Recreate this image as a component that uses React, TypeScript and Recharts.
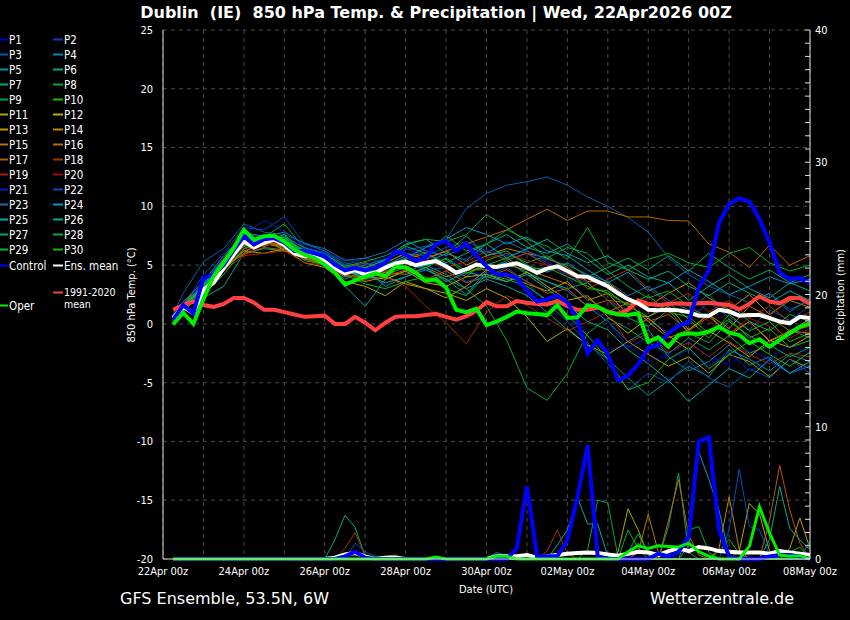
import React from "react";
import { CartesianGrid, Line, LineChart, XAxis, YAxis } from "recharts";

const FONT = "'DejaVu Sans Condensed', 'DejaVu Sans', sans-serif";
const WIDE_FONT = "'DejaVu Sans', sans-serif";

// x axis: steps of 6 h from 22Apr 00z (step 0) to 08May 00z (step 64)
const dayTicks = [0, 4, 8, 12, 16, 20, 24, 28, 32, 36, 40, 44, 48, 52, 56, 60, 64];
const dateLabels = ["22Apr 00z", "24Apr 00z", "26Apr 00z", "28Apr 00z", "30Apr 00z", "02May 00z", "04May 00z", "06May 00z", "08May 00z"];
const tempTicks = [-20, -15, -10, -5, 0, 5, 10, 15, 20, 25];
const rainTicks = Array.from({ length: 41 }, (_, i) => i);

// 6-hourly, steps 1..64
const controlT = [0.35, 1.6, 0.9, 3.9, 4.2, 5.0, 6.3, 7.45, 6.75, 7.2, 7.3, 6.9, 6.2, 6.2, 6.0, 5.75, 5.05, 4.55, 4.75, 4.55, 4.8, 5.2, 6.2, 5.9, 5.35, 5.65, 6.8, 7.05, 6.2, 6.8, 5.8, 4.9, 4.2, 4.2, 3.9, 2.8, 1.9, 2.1, 2.4, 1.85, 0.3, -2.5, -1.4, -2.6, -4.8, -4.4, -3.45, -2.05, -1.8, -0.8, -0.15, 0.1, 3.1, 4.6, 8.6, 10.2, 10.7, 10.4, 8.9, 6.9, 4.35, 3.8, 3.9, 3.5];
const meanT = [0.5, 1.45, 0.9, 2.9, 3.5, 4.75, 5.9, 7.0, 6.5, 6.9, 7.2, 6.7, 6.0, 5.75, 5.8, 5.3, 4.75, 4.3, 4.6, 4.2, 4.35, 4.8, 5.15, 5.3, 5.0, 5.2, 5.35, 4.9, 4.35, 4.65, 5.05, 4.9, 4.85, 5.0, 5.15, 4.8, 4.35, 4.7, 4.9, 4.5, 4.05, 4.0, 3.6, 3.2, 2.6, 2.1, 1.75, 1.2, 1.15, 1.2, 1.15, 1.0, 0.7, 0.7, 1.2, 1.05, 0.7, 0.75, 0.75, 0.5, 0.2, 0.05, 0.6, 0.5];
const operT = [-0.05, 0.95, 0.0, 2.1, 4.05, 5.2, 6.45, 8.0, 7.15, 7.45, 7.5, 7.0, 6.3, 5.9, 5.6, 5.05, 4.35, 3.35, 3.7, 4.0, 4.3, 4.05, 4.85, 4.8, 4.35, 3.65, 3.8, 3.1, 1.2, 1.0, 1.3, -0.1, 0.2, 0.6, 1.05, 0.9, 0.85, 0.75, 1.6, 0.5, 0.55, 1.6, 1.45, 1.0, 0.8, 0.75, 0.9, -1.5, -1.15, -1.95, -0.95, -0.8, -0.85, -0.65, -0.25, -0.75, -0.95, -1.65, -1.3, -1.95, -1.35, -0.8, -0.25, 0.05];
const climT = [1.2, 1.6, 1.9, 1.6, 1.45, 1.7, 2.2, 2.2, 1.8, 1.2, 1.2, 1.0, 0.8, 0.6, 0.65, 0.7, 0.0, 0.0, 0.6, 0.1, -0.55, 0.1, 0.6, 0.65, 0.65, 0.75, 0.85, 0.6, 0.35, 0.65, 1.1, 1.85, 1.5, 1.5, 1.95, 1.8, 1.7, 1.65, 1.95, 1.5, 1.2, 1.2, 1.4, 1.05, 0.85, 1.2, 2.0, 1.7, 1.6, 1.7, 1.75, 1.7, 1.75, 1.8, 1.7, 1.6, 1.25, 1.7, 2.35, 1.9, 1.75, 2.2, 2.2, 1.7];

// perturbations: step 1, then every 12 h (steps 2, 4, ..., 64)
const p1 = [0.4, 1.8, 3.5, 5.6, 7.4, 7.6, 7.2, 6.3, 5.8, 4.8, 4.2, 4.9, 5.8, 6.3, 5.5, 4.2, 4.4, 3.8, 3.0, 2.0, 0.6, -1.0, -2.2, -1.8, -3.2, -2.6, -1.5, -2.8, -3.5, -2.2, -3.0, -1.8, -2.5];
const p2 = [0.6, 1.4, 4.2, 6.0, 8.2, 8.0, 9.1, 6.8, 6.2, 5.0, 5.6, 5.2, 6.0, 5.8, 6.5, 7.0, 6.2, 5.5, 6.0, 5.2, 4.0, 3.5, 2.0, 1.2, 0.5, -0.8, 0.4, 1.8, 0.6, -0.5, 1.2, 0.3, 1.5];
const p3 = [0.8, 2.6, 5.3, 6.4, 8.5, 7.8, 7.6, 6.9, 6.2, 5.2, 4.8, 5.4, 6.3, 6.6, 7.2, 9.8, 11.1, 11.8, 12.1, 12.5, 11.8, 10.8, 10.0, 9.05, 7.8, 5.65, 4.2, 3.2, 2.5, 1.8, 2.6, 1.2, 2.0];
const p4 = [0.3, 1.2, 2.5, 4.8, 6.6, 7.2, 6.5, 5.6, 5.0, 3.8, 4.6, 3.2, 4.0, 4.6, 3.8, 2.5, 4.5, 5.4, 4.2, 3.6, 2.8, 1.5, 0.2, -1.5, -0.5, -2.8, -4.0, -3.2, -1.8, -3.5, -2.8, -4.2, -3.6];
const p5 = [0.7, 1.6, 3.2, 5.0, 6.8, 7.0, 6.8, 5.5, 5.2, 3.2, 1.5, 3.8, 4.5, 5.0, 4.2, 3.0, 3.8, 3.2, 2.4, 1.0, -0.5, -1.8, -3.0, -4.6, -6.1, -4.8, -3.6, -4.5, -2.2, -3.0, -4.0, -2.6, -3.2];
const p6 = [0.2, 1.0, 2.8, 5.4, 7.2, 6.6, 7.4, 6.5, 5.9, 4.6, 5.0, 5.5, 6.8, 7.2, 6.0, 5.4, 6.8, 7.6, 6.5, 6.0, 6.8, 5.5, 4.2, 5.0, 4.0, 3.5, 2.0, 3.2, 4.2, 3.0, 2.2, 3.5, 2.8];
const p7 = [0.5, 1.4, 2.2, 3.2, 6.0, 6.4, 6.2, 5.8, 5.5, 4.8, 3.8, 4.4, 5.2, 4.8, 5.6, 4.5, 4.8, 5.2, 4.4, 3.6, 3.0, 3.5, 2.0, 0.5, -0.2, 1.2, -0.8, -1.6, 0.2, -1.0, -2.0, -0.5, -1.2];
const p8 = [0.3, 1.2, 2.6, 4.6, 6.4, 6.8, 6.6, 5.4, 5.0, 4.0, 4.2, 4.8, 5.4, 4.6, 3.8, 3.0, 1.5, -1.4, -5.45, -6.5, -4.2, -0.8, 0.5, -0.4, -1.6, -2.5, -1.2, -2.2, -1.0, -2.5, -1.8, -2.8, -2.0];
const p9 = [0.6, 1.7, 3.4, 5.6, 7.8, 7.4, 8.5, 6.4, 6.0, 4.8, 5.2, 4.6, 5.5, 6.0, 7.5, 6.2, 6.8, 8.0, 7.2, 6.6, 5.5, 8.2, 5.2, 4.6, 5.5, 6.0, 5.2, 4.8, 6.0, 6.5, 5.2, 4.5, 5.0];
const p10 = [0.4, 1.3, 3.0, 5.0, 7.0, 7.2, 6.8, 6.0, 5.4, 4.2, 4.8, 4.2, 4.8, 5.5, 4.8, 4.0, 5.4, 6.0, 5.2, 5.8, 4.6, 3.0, 2.8, 1.5, 0.6, 1.8, 0.4, -1.2, 0.8, -0.6, 0.2, -1.5, -0.8];
const p11 = [0.6, 1.5, 2.8, 4.6, 6.2, 6.0, 6.4, 5.2, 4.8, 3.6, 3.2, 2.4, 3.6, 3.0, 2.6, 2.0, 3.0, 2.2, 0.6, -1.5, -0.4, -1.8, -2.6, -1.5, -2.6, -3.6, -2.8, -4.2, -2.6, -3.2, -4.5, -3.0, -3.8];
const p12 = [0.5, 1.6, 3.1, 5.3, 6.9, 7.1, 6.6, 5.9, 5.3, 4.4, 4.1, 3.8, 4.5, 3.5, 3.2, 4.0, 4.2, 3.6, 4.4, 3.2, 2.0, 2.4, 0.6, -0.8, 0.5, -1.0, -2.2, -0.6, -1.6, -2.8, -1.4, -2.0, -1.0];
const p13 = [0.4, 1.5, 2.9, 4.8, 6.0, 7.3, 6.2, 5.8, 5.5, 4.3, 3.6, 4.0, 3.4, 3.0, 2.2, 3.2, 4.6, 4.0, 3.4, 2.8, 3.6, 2.0, 2.6, 0.8, 0.6, 1.5, -0.5, 0.8, -1.0, 0.2, -1.5, -0.6, -0.8];
const p14 = [0.7, 1.9, 3.3, 5.5, 7.1, 6.6, 7.2, 6.1, 5.7, 4.4, 4.7, 5.2, 6.0, 5.5, 6.2, 5.0, 5.8, 6.4, 6.0, 5.6, 4.8, 3.6, 3.5, 2.2, 1.5, 2.6, 3.5, 2.2, 1.2, 2.5, 0.8, 2.0, 1.4];
const p15 = [0.5, 1.4, 3.0, 5.1, 6.6, 6.9, 6.4, 5.6, 5.1, 4.1, 4.0, 4.4, 4.2, 4.8, 4.0, 4.6, 4.6, 5.0, 4.6, 4.0, 3.4, 2.2, 1.0, 1.8, 0.2, -1.2, -0.5, 0.8, -0.4, 1.5, 0.6, -0.6, 0.4];
const p16 = [0.6, 1.7, 3.1, 5.0, 6.2, 6.8, 6.6, 5.7, 5.2, 4.6, 4.2, 4.5, 5.0, 5.6, 6.2, 6.8, 7.4, 8.0, 8.9, 9.75, 8.8, 9.6, 9.6, 9.1, 9.1, 8.8, 8.75, 6.8, 6.1, 4.8, 6.7, 5.0, 5.8];
const p17 = [0.5, 1.5, 2.7, 4.9, 5.9, 6.5, 6.3, 5.5, 5.0, 4.0, 4.4, 4.0, 4.6, 3.8, 4.5, 3.5, 4.0, 4.6, 3.6, 2.6, 3.0, 1.5, 2.0, 1.8, 0.2, 0.8, -0.6, 0.6, -0.8, 0.2, -1.4, -0.6, -0.2];
const p18 = [0.4, 1.3, 2.9, 5.1, 6.0, 6.7, 6.9, 5.9, 5.6, 4.7, 5.2, 4.8, 5.6, 6.1, 4.8, 5.3, 6.2, 5.4, 6.0, 5.0, 4.6, 3.0, 3.8, 4.6, 3.0, 1.8, 2.6, 1.0, 2.0, 0.5, 1.5, 0.2, 1.0];
const p19 = [0.5, 1.6, 2.8, 4.5, 5.8, 6.0, 6.2, 5.2, 5.0, 4.2, 3.8, 4.0, 3.2, 1.5, 0.1, -1.7, 1.0, 2.4, 1.6, 0.5, -0.6, 0.2, 1.0, -1.6, -0.8, -2.4, -1.6, -2.8, -1.5, -2.6, -3.4, -2.5, -2.8];
const p20 = [0.6, 1.7, 3.2, 5.6, 6.4, 6.9, 7.0, 6.0, 5.5, 4.6, 4.0, 4.5, 5.0, 5.5, 4.6, 4.2, 5.6, 6.0, 5.4, 5.0, 4.2, 3.6, 2.0, 1.0, 2.2, 0.8, 1.6, 0.2, -0.8, 0.5, -0.2, -1.2, -0.4];
const p21 = [0.5, 1.5, 3.6, 5.8, 7.6, 8.8, 7.9, 6.6, 6.0, 5.5, 5.0, 5.6, 6.4, 5.8, 5.0, 5.6, 6.3, 5.8, 6.2, 5.4, 4.0, 2.0, 0.2, -2.0, -1.2, -3.0, -2.2, -3.6, -2.4, -4.0, -3.2, -4.2, -3.5];
const p22 = [0.4, 1.1, 2.9, 5.2, 7.2, 7.0, 7.5, 6.4, 6.1, 5.0, 4.6, 5.0, 5.2, 4.6, 4.8, 3.6, 4.0, 4.8, 3.5, 1.8, 0.2, -1.6, -3.4, -5.6, -4.2, -5.0, -3.2, -4.6, -5.4, -3.8, -4.6, -3.0, -4.2];
const p23 = [0.5, 1.9, 3.6, 5.8, 7.6, 7.5, 7.8, 6.8, 6.4, 5.4, 5.6, 6.1, 7.1, 6.2, 5.8, 6.6, 6.0, 7.0, 6.2, 5.5, 5.0, 4.2, 3.6, 2.4, 3.2, 2.0, 1.2, 2.5, 0.8, 1.8, 2.6, 1.0, 2.2];
const p24 = [0.7, 1.6, 3.3, 5.5, 7.3, 7.0, 7.1, 6.2, 5.8, 4.5, 4.0, 4.9, 5.6, 6.5, 7.2, 8.2, 7.6, 6.8, 7.4, 6.2, 5.8, 4.6, 3.5, 4.4, 2.8, 3.5, 4.6, 3.6, 2.5, 3.2, 4.0, 3.4, 3.8];
const p25 = [0.5, 1.5, 3.1, 5.3, 7.0, 7.1, 7.0, 6.1, 5.6, 4.4, 4.2, 3.5, 4.0, 4.8, 3.6, 4.4, 4.0, 3.6, 4.2, 3.0, 1.6, 0.2, -0.5, -2.2, -3.4, -4.8, -6.6, -5.2, -3.8, -4.6, -3.0, -4.2, -3.2];
const p26 = [0.4, 1.6, 3.0, 5.1, 7.0, 6.9, 7.3, 6.2, 5.7, 4.6, 4.8, 5.4, 6.6, 6.0, 5.2, 6.0, 6.8, 5.6, 6.4, 7.2, 6.0, 5.2, 5.8, 4.6, 3.8, 4.5, 3.2, 2.4, 3.5, 2.6, 1.8, 2.8, 2.0];
const p27 = [0.6, 1.4, 2.9, 5.0, 6.8, 7.2, 6.9, 5.8, 5.4, 4.3, 4.6, 5.0, 5.8, 5.2, 6.0, 7.5, 5.8, 6.2, 5.0, 4.4, 5.2, 4.0, 4.8, 5.6, 4.6, 5.8, 4.5, 6.0, 4.8, 3.8, 4.6, 3.5, 4.2];
const p28 = [0.5, 1.7, 3.2, 5.4, 7.2, 7.4, 7.1, 6.3, 5.9, 4.9, 5.3, 5.8, 6.7, 7.2, 7.0, 7.6, 9.3, 8.2, 7.0, 5.6, 6.5, 6.0, 4.5, 3.2, 2.2, 2.8, 1.5, 0.5, 1.8, 0.2, -0.6, 0.8, 0.2];
const p29 = [0.3, 1.2, 2.5, 4.2, 6.4, 7.0, 7.4, 6.0, 5.4, 4.2, 3.4, 3.0, 3.6, 4.0, 3.0, 2.4, 4.2, 3.8, 3.2, 2.0, 0.8, -1.0, -3.0, -5.6, -5.0, -3.0, -2.0, -3.8, -2.6, -1.5, -2.6, -3.6, -2.4];
const p30 = [0.5, 1.5, 3.0, 5.2, 7.0, 7.0, 7.6, 6.0, 5.6, 4.4, 4.4, 4.7, 5.3, 5.0, 5.5, 4.3, 5.0, 5.6, 4.6, 4.8, 4.0, 3.2, 2.6, 1.6, 2.4, 1.0, 0.6, -0.8, 0.4, -1.2, -0.4, -2.0, -1.4];

// precipitation (mm per 6 h), only non-zero steps as [step, mm]
type Rain = [number, number][];
const r1: Rain = [];
const r2: Rain = [[44, 0.3]];
const r3: Rain = [];
const r4: Rain = [[33, 0.5], [34, 0.2]];
const r5: Rain = [];
const r6: Rain = [[17, 1.45], [18, 3.3], [19, 2.4], [20, 0.2]];
const r7: Rain = [[50, 2.45], [51, 6.5], [52, 0.5]];
const r8: Rain = [[42, 0.7], [43, 4.45], [44, 4.25], [45, 0.2]];
const r9: Rain = [[46, 0.4], [47, 1.2], [48, 0.6]];
const r10: Rain = [[55, 0.6], [56, 1.5], [57, 0.4]];
const r11: Rain = [[45, 0.5], [46, 3.8], [47, 2.2], [48, 0.3]];
const r12: Rain = [[57, 0.6], [58, 4.2], [59, 3.4], [60, 0.6]];
const r13: Rain = [[62, 0.8], [63, 3.1], [64, 0.8]];
const r14: Rain = [[55, 0.8], [56, 4.7], [57, 0.7]];
const r15: Rain = [[22, 0.2], [23, 0.3], [47, 0.5], [48, 3.4], [49, 0.5]];
const r16: Rain = [[50, 2.9], [51, 6.0], [52, 1.8], [53, 0.3]];
const r17: Rain = [[60, 2.9], [61, 7.1], [62, 3.7], [63, 1.2]];
const r18: Rain = [[18, 0.8], [19, 2.0], [20, 0.2], [38, 0.6], [39, 2.2], [40, 0.4]];
const r19: Rain = [[33, 0.3]];
const r20: Rain = [];
const r21: Rain = [[49, 0.3], [50, 0.5]];
const r22: Rain = [[19, 1.2], [20, 0.55], [21, 0.2], [56, 2.2], [57, 6.8], [58, 2.45], [59, 2.2], [60, 0.3]];
const r23: Rain = [[64, 1.4]];
const r24: Rain = [[52, 1.0], [53, 8.1], [54, 6.0], [55, 3.7], [56, 0.3]];
const r25: Rain = [[39, 1.05], [40, 2.2], [41, 4.65], [42, 2.65], [43, 2.65], [44, 0.2]];
const r26: Rain = [[60, 1.5], [61, 5.5], [62, 2.3], [63, 1.45], [64, 0.7]];
const r27: Rain = [[46, 0.5], [47, 1.9], [48, 0.4]];
const r28: Rain = [[52, 2.2], [53, 2.45], [54, 0.5]];
const r29: Rain = [[46, 2.2], [47, 0.8]];
const r30: Rain = [[62, 0.5], [63, 0.9]];
const controlR: Rain = [[18, 0.2], [19, 0.55], [20, 0.1], [35, 0.8], [36, 5.5], [37, 0.2], [38, 0.2], [39, 0.2], [40, 1.4], [41, 4.7], [42, 8.6], [43, 0.2], [49, 0.4], [50, 0.2], [51, 0.55], [52, 1.7], [53, 8.9], [54, 9.2], [55, 2.2], [56, 0.2], [60, 0.2], [61, 0.3], [62, 0.3], [63, 0.2]];
const operR: Rain = [[27, 0.15], [33, 0.2], [34, 0.2], [46, 0.55], [47, 1.0], [48, 0.8], [49, 1.0], [50, 0.95], [51, 0.9], [52, 1.2], [53, 0.55], [54, 0.2], [58, 0.95], [59, 3.95], [60, 1.95], [61, 0.3], [62, 0.2], [63, 0.25]];
const meanR: Rain = [[17, 0.1], [18, 0.35], [19, 0.45], [20, 0.2], [22, 0.1], [23, 0.1], [33, 0.2], [34, 0.2], [35, 0.2], [36, 0.3], [37, 0.1], [38, 0.2], [39, 0.3], [40, 0.4], [41, 0.45], [42, 0.5], [43, 0.45], [44, 0.35], [45, 0.25], [46, 0.4], [47, 0.55], [48, 0.5], [49, 0.3], [50, 0.6], [51, 0.8], [52, 0.6], [53, 0.9], [54, 0.8], [55, 0.6], [56, 0.55], [57, 0.5], [58, 0.5], [59, 0.5], [60, 0.4], [61, 0.6], [62, 0.5], [63, 0.4], [64, 0.3]];

const memberT = [p1, p2, p3, p4, p5, p6, p7, p8, p9, p10, p11, p12, p13, p14, p15, p16, p17, p18, p19, p20, p21, p22, p23, p24, p25, p26, p27, p28, p29, p30];
const memberR = [r1, r2, r3, r4, r5, r6, r7, r8, r9, r10, r11, r12, r13, r14, r15, r16, r17, r18, r19, r20, r21, r22, r23, r24, r25, r26, r27, r28, r29, r30];

const COLORS = [
  "#0000cc", "#0044bb", "#0060b0", "#0088bb", "#009999", "#00aa88", "#00aa66", "#00aa44", "#00aa22", "#11bb00",
  "#aaaa00", "#bbaa00", "#bb9900", "#bb8800", "#bb7700", "#bb6600", "#bb5500", "#aa3300", "#aa2200", "#991111",
  "#0022bb", "#0050bb", "#1070b8", "#0099cc", "#00aaaa", "#00aa88", "#00aa66", "#00aa44", "#00bb22", "#11bb00",
];

const CONTROL = "#0000ff";
const OPER = "#00ee00";
const MEAN = "#ffffff";
const CLIM = "#ff4040";

// build the table the chart needs
const rows: any[] = Array.from({ length: 64 }, (_, n) => ({
  step: n + 1,
  ctl: controlT[n],
  mean: meanT[n],
  oper: operT[n],
  clim: climT[n],
  rCtl: 0,
  rOper: 0,
  rMean: 0,
}));
memberT.forEach((arr, m) => {
  rows.forEach((row) => {
    row[`r${m + 1}`] = 0;
  });
  arr.forEach((v, k) => {
    const step = k === 0 ? 1 : 2 * k;
    rows[step - 1][`p${m + 1}`] = v;
  });
});
memberR.forEach((spikes, m) => {
  spikes.forEach(([step, mm]) => {
    rows[step - 1][`r${m + 1}`] = mm;
  });
});
controlR.forEach(([s, mm]) => (rows[s - 1].rCtl = mm));
operR.forEach(([s, mm]) => (rows[s - 1].rOper = mm));
meanR.forEach(([s, mm]) => (rows[s - 1].rMean = mm));

const RainTick = ({ x, y, payload }: any) => (
  <g>
    <line x1={x - 5} x2={x} y1={y} y2={y} stroke="#dddddd" />
    {payload.value % 10 === 0 && (
      <text x={x + 5} y={y + 4} fill="#ffffff" fontSize={11} fontFamily={FONT}>
        {payload.value}
      </text>
    )}
  </g>
);

const legendLeft = ["P1", "P3", "P5", "P7", "P9", "P11", "P13", "P15", "P17", "P19", "P21", "P23", "P25", "P27", "P29"];
const legendRight = ["P2", "P4", "P6", "P8", "P10", "P12", "P14", "P16", "P18", "P20", "P22", "P24", "P26", "P28", "P30"];

function Overlay() {
  const txt = { fill: "#ffffff", fontFamily: FONT } as const;
  const wide = { fill: "#ffffff", fontFamily: WIDE_FONT } as const;
  return (
    <svg width={850} height={620} style={{ position: "absolute", left: 0, top: 0, pointerEvents: "none" }}>
      <text x={436} y={18} textAnchor="middle" fontSize={16} fontWeight="bold" xmlSpace="preserve" style={{ whiteSpace: "pre" }} {...wide}>
        {"Dublin  (IE)  850 hPa Temp. & Precipitation | Wed, 22Apr2026 00Z"}
      </text>
      {legendLeft.map((name, j) => (
        <g key={name}>
          <line x1={0} x2={8} y1={39.5 + j * 15} y2={39.5 + j * 15} stroke={COLORS[j * 2]} strokeWidth={2} />
          <text x={9} y={43.5 + j * 15} fontSize={11.5} {...txt}>{name}</text>
        </g>
      ))}
      {legendRight.map((name, j) => (
        <g key={name}>
          <line x1={53} x2={63} y1={39.5 + j * 15} y2={39.5 + j * 15} stroke={COLORS[j * 2 + 1]} strokeWidth={2} />
          <text x={64} y={43.5 + j * 15} fontSize={11.5} {...txt}>{name}</text>
        </g>
      ))}
      <line x1={0} x2={8} y1={265.5} y2={265.5} stroke={CONTROL} strokeWidth={2} />
      <text x={9} y={269.5} fontSize={11.5} {...txt}>Control</text>
      <line x1={53} x2={63} y1={265.5} y2={265.5} stroke={MEAN} strokeWidth={2} />
      <text x={64} y={269.5} fontSize={11.5} {...txt}>Ens. mean</text>
      <line x1={53} x2={63} y1={292.5} y2={292.5} stroke={CLIM} strokeWidth={2} />
      <text x={64} y={296} fontSize={10.5} {...txt}>1991-2020</text>
      <text x={64} y={307.5} fontSize={10.5} {...txt}>mean</text>
      <line x1={0} x2={8} y1={305.5} y2={305.5} stroke={OPER} strokeWidth={2} />
      <text x={9} y={309.5} fontSize={11.5} {...txt}>Oper</text>

      <text transform="translate(135,295) rotate(-90)" textAnchor="middle" fontSize={11} {...txt}>
        850 hPa Temp. (°C)
      </text>
      <text transform="translate(844,295) rotate(-90)" textAnchor="middle" fontSize={11} {...txt}>
        Precipitation (mm)
      </text>
      <text x={486} y={593} textAnchor="middle" fontSize={11} {...txt}>Date (UTC)</text>
      <text x={120} y={604} fontSize={16} {...wide}>GFS Ensemble, 53.5N, 6W</text>
      <text x={650} y={604} fontSize={16} {...wide}>Wetterzentrale.de</text>
    </svg>
  );
}

export default function App() {
  return (
    <div style={{ position: "relative", width: 850, height: 620, background: "#000000", fontFamily: FONT }}>
      <style>{"body{margin:0;background:#000}"}</style>
      <LineChart width={850} height={620} data={rows} margin={{ top: 30, right: 10, bottom: 36, left: 103 }}>
        <CartesianGrid yAxisId="t" stroke="#4a4a4a" strokeDasharray="4 4" />
        <XAxis
          dataKey="step"
          type="number"
          domain={[0, 64]}
          ticks={dayTicks}
          interval={0}
          height={25}
          tickLine={false}
          axisLine={{ stroke: "#dddddd" }}
          tick={{ fill: "#ffffff", fontSize: 11, fontFamily: FONT }}
          tickFormatter={(v: number) => (v % 8 === 0 ? dateLabels[v / 8] : "")}
        />
        <YAxis
          yAxisId="t"
          type="number"
          domain={[-20, 25]}
          ticks={tempTicks}
          interval={0}
          width={60}
          tickLine={false}
          tickSize={4}
          tickMargin={6}
          axisLine={{ stroke: "#dddddd" }}
          tick={{ fill: "#ffffff", fontSize: 11, fontFamily: FONT }}
        />
        <YAxis
          yAxisId="p"
          orientation="right"
          type="number"
          domain={[0, 40]}
          ticks={rainTicks}
          interval={0}
          width={30}
          tickLine={false}
          tickSize={0}
          tickMargin={0}
          axisLine={{ stroke: "#dddddd" }}
          tick={<RainTick />}
        />
        {COLORS.map((c, m) => (
          <Line key={`r${m}`} yAxisId="p" dataKey={`r${m + 1}`} stroke={c} strokeWidth={1} dot={false} isAnimationActive={false} />
        ))}
        {COLORS.map((c, m) => (
          <Line key={`p${m}`} yAxisId="t" dataKey={`p${m + 1}`} stroke={c} strokeWidth={1} dot={false} connectNulls isAnimationActive={false} />
        ))}
        <Line yAxisId="t" dataKey="clim" stroke={CLIM} strokeWidth={4} dot={false} isAnimationActive={false} />
        <Line yAxisId="t" dataKey="mean" stroke={MEAN} strokeWidth={4} dot={false} isAnimationActive={false} />
        <Line yAxisId="t" dataKey="ctl" stroke={CONTROL} strokeWidth={4} dot={false} isAnimationActive={false} />
        <Line yAxisId="t" dataKey="oper" stroke={OPER} strokeWidth={4} dot={false} isAnimationActive={false} />
        <Line yAxisId="p" dataKey="rMean" stroke={MEAN} strokeWidth={4} dot={false} isAnimationActive={false} />
        <Line yAxisId="p" dataKey="rCtl" stroke={CONTROL} strokeWidth={4} dot={false} isAnimationActive={false} />
        <Line yAxisId="p" dataKey="rOper" stroke={OPER} strokeWidth={3} dot={false} isAnimationActive={false} />
      </LineChart>
      <Overlay />
    </div>
  );
}
